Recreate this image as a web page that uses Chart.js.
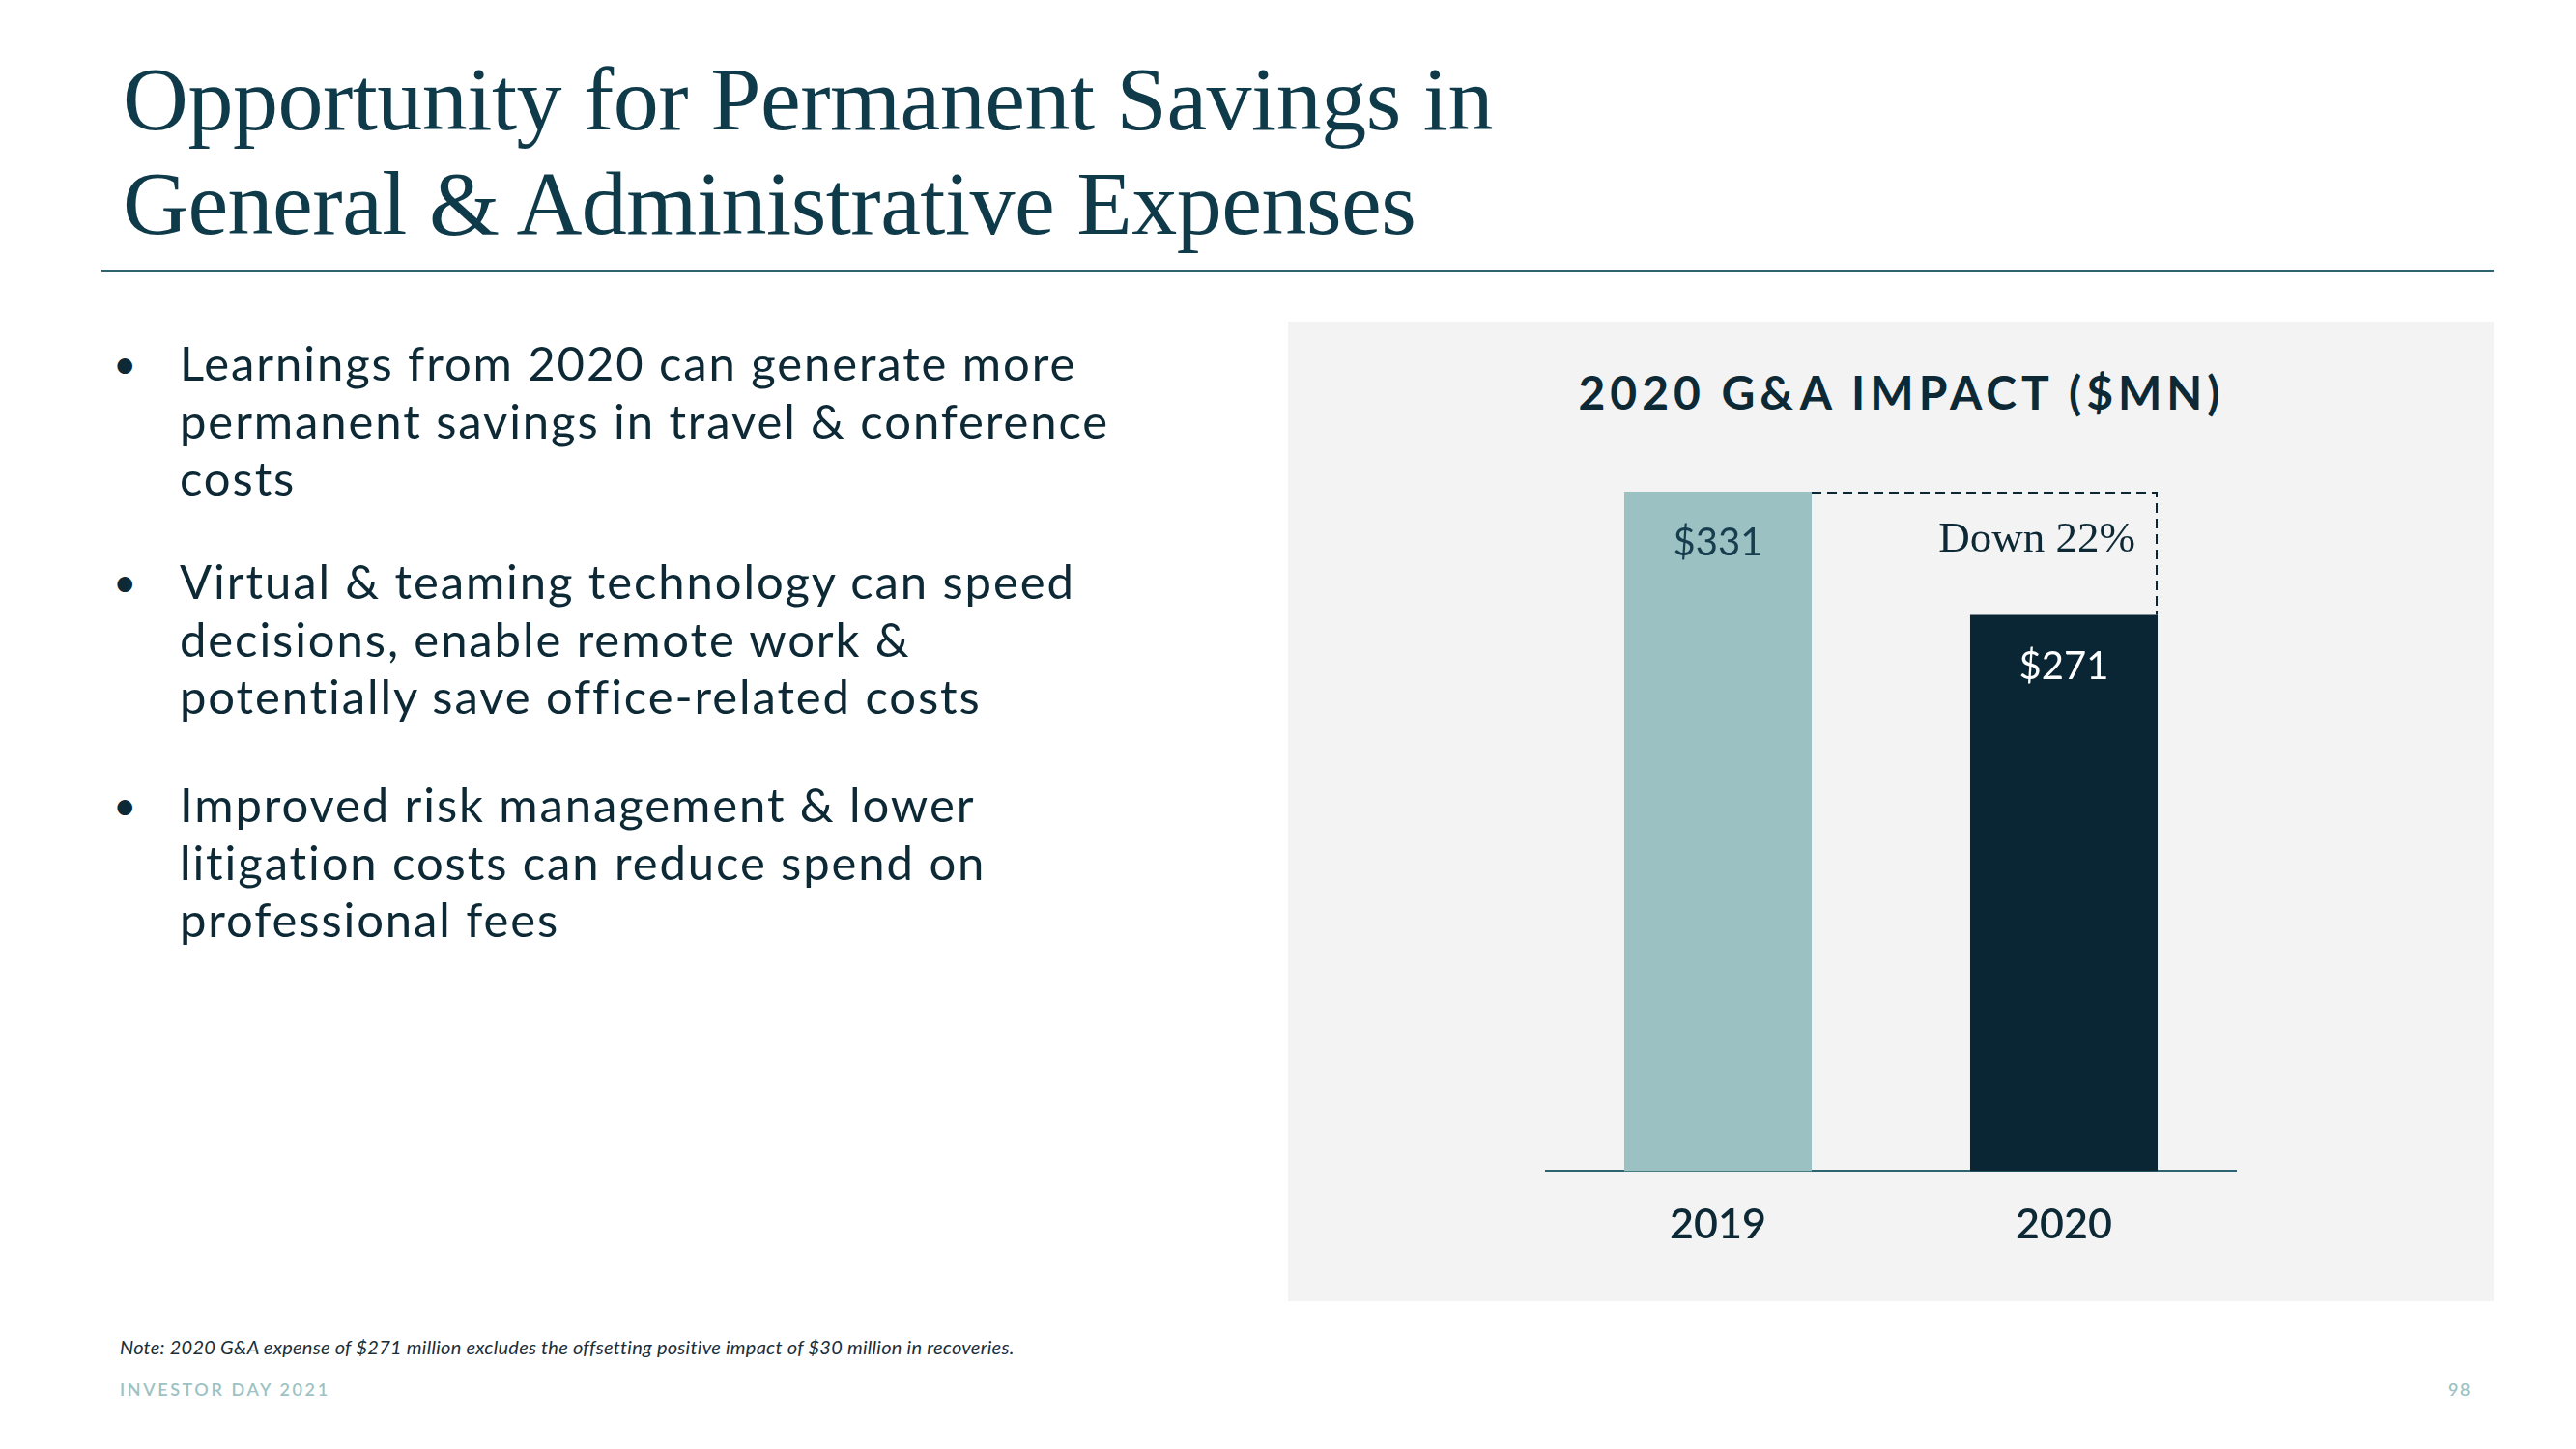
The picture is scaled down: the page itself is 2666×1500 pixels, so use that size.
<!DOCTYPE html>
<html>
<head>
<meta charset="utf-8">
<script src="https://cdn.jsdelivr.net/npm/chart.js@4.4.1/dist/chart.umd.min.js"></script>
<style>
  html, body { margin: 0; padding: 0; background: #ffffff; }
  body { width: 2666px; height: 1500px; position: relative; overflow: hidden; font-family: Lato, "Noto Sans", sans-serif; }
  .abs { position: absolute; white-space: pre; }
  #title { left: 127px; top: 48px; font-family: "Liberation Serif", serif; font-size: 94px; line-height: 108px; color: #0e3a4a; letter-spacing: -0.5px; }
  #rule { left: 105px; top: 279px; width: 2476px; height: 3px; background: #2d6470; }
  .bullet { left: 186px; font-size: 49px; line-height: 59.5px; color: #0c2935; letter-spacing: 1.9px; }
  .dot { left: 117px; font-size: 42px; line-height: 59.5px; color: #0c2935; }
  #panel { left: 1333px; top: 333px; width: 1248px; height: 1014px; background: #f3f3f3; }
  #ctitle { left: 1968px; top: 377px; transform: translateX(-50%); font-size: 48px; line-height: 58px; font-weight: bold; letter-spacing: 5px; color: #0c2935; }
  #chartbox { position: absolute; left: 1599px; top: 480px; width: 716px; height: 852px; }
  #note { left: 124px; top: 1382px; font-size: 20px; line-height: 24px; font-style: italic; color: #1a2e3a; letter-spacing: 0.25px; }
  #footer { left: 124px; top: 1427px; font-size: 18px; line-height: 22px; letter-spacing: 2.6px; color: #9cc2c3; font-weight: 600; }
  #page { right: 108px; top: 1427px; font-size: 18px; line-height: 22px; letter-spacing: 1.5px; color: #9cc2c3; font-weight: 600; }
</style>
</head>
<body>
<div id="title" class="abs">Opportunity for Permanent Savings in
General &amp; Administrative Expenses</div>
<div id="rule" class="abs"></div>

<div class="abs dot" style="top:347px">•</div>
<div class="abs bullet" style="top:346px">Learnings from 2020 can generate more
permanent savings in travel &amp; conference
costs</div>
<div class="abs dot" style="top:573px">•</div>
<div class="abs bullet" style="top:572px">Virtual &amp; teaming technology can speed
decisions, enable remote work &amp;
potentially save office-related costs</div>
<div class="abs dot" style="top:804px">•</div>
<div class="abs bullet" style="top:803px">Improved risk management &amp; lower
litigation costs can reduce spend on
professional fees</div>

<div id="panel" class="abs"></div>
<div id="ctitle" class="abs">2020 G&amp;A IMPACT ($MN)</div>
<div id="chartbox"><canvas id="c"></canvas></div>

<div id="note" class="abs">Note: 2020 G&amp;A expense of $271 million excludes the offsetting positive impact of $30 million in recoveries.</div>
<div id="footer" class="abs">INVESTOR DAY 2021</div>
<div id="page" class="abs">98</div>

<script>
// ---- data ----
const categories = ['2019', '2020'];
const values = [331, 271];
const valuePrefix = '$';
const changeLabel = 'Down 22%';

// ---- styles ----
const barColors = ['#9bc1c2', '#0a2634'];
const labelColors = ['#163e4e', '#ffffff'];
const ink = '#0c2935';

const gaPlugin = {
  id: 'gaAnnotations',
  afterDatasetsDraw(chart) {
    const ctx = chart.ctx;
    const meta = chart.getDatasetMeta(0);
    const yScale = chart.scales.y;
    ctx.save();
    // value labels inside bars
    ctx.font = '40px Lato';
    ctx.textAlign = 'center';
    ctx.textBaseline = 'alphabetic';
    meta.data.forEach((bar, i) => {
      ctx.fillStyle = labelColors[i];
      ctx.fillText(valuePrefix + values[i], bar.x, bar.y + 66);
    });
    // dashed connector from first bar top to second bar top
    const b0 = meta.data[0], b1 = meta.data[1];
    const x0 = b0.x + b0.width / 2;
    const x1 = b1.x + b1.width / 2 - 1;
    const yTop = yScale.getPixelForValue(values[0]) + 1;
    ctx.setLineDash([10, 6]);
    ctx.lineWidth = 2;
    ctx.strokeStyle = '#0a2634';
    ctx.beginPath();
    ctx.moveTo(x0, yTop);
    ctx.lineTo(x1, yTop);
    ctx.lineTo(x1, b1.y);
    ctx.stroke();
    ctx.setLineDash([]);
    ctx.font = '45px "Liberation Serif"';
    ctx.textAlign = 'right';
    ctx.fillStyle = ink;
    ctx.fillText(changeLabel, x1 - 22, yTop + 61);
    ctx.restore();
  }
};

function draw() {
  new Chart(document.getElementById('c'), {
    type: 'bar',
    data: {
      labels: categories,
      datasets: [{
        data: values,
        backgroundColor: barColors,
        borderWidth: 0,
        categoryPercentage: 1,
        barPercentage: 0.542
      }]
    },
    options: {
      responsive: true,
      maintainAspectRatio: false,
      animation: false,
      layout: { padding: { top: 29, bottom: 8, left: 0, right: 0 } },
      plugins: { legend: { display: false }, tooltip: { enabled: false }, title: { display: false } },
      scales: {
        x: {
          grid: { display: false, drawTicks: false },
          border: { display: true, color: '#2d6470', width: 2 },
          ticks: { color: ink, padding: 30, font: { family: 'Lato', size: 43, weight: '600' } }
        },
        y: { display: false, min: 0, max: Math.max(...values) }
      }
    },
    plugins: [gaPlugin]
  });
}
if (document.fonts && document.fonts.ready) { document.fonts.ready.then(draw); } else { draw(); }
</script>
</body>
</html>
